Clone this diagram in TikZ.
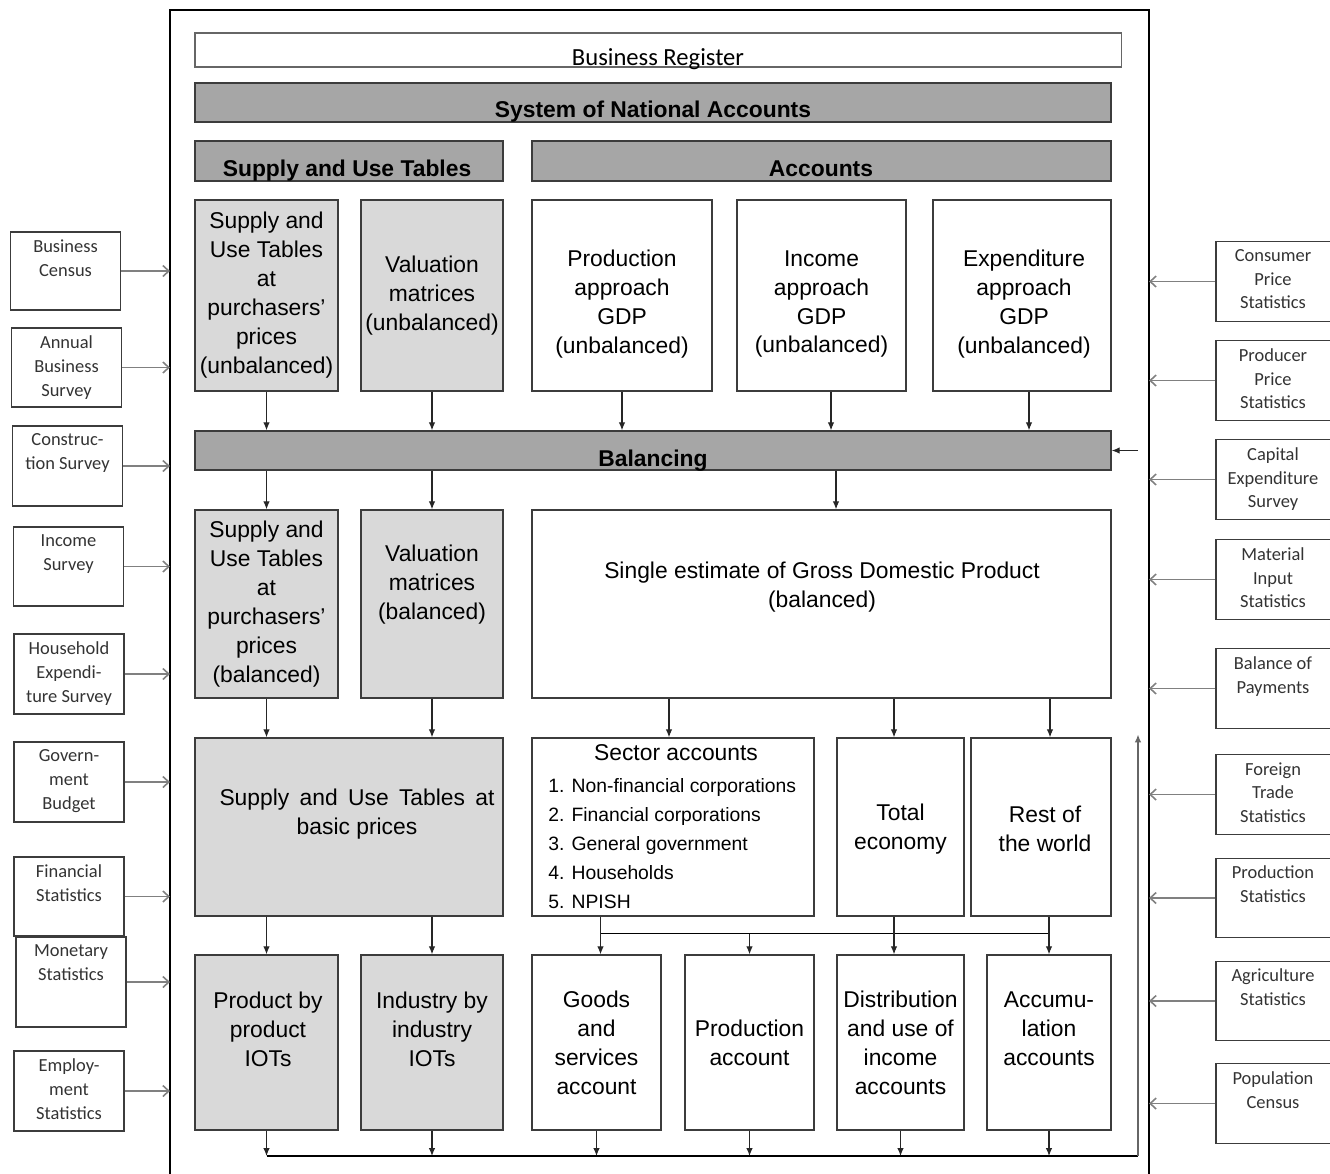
\documentclass[tikz,border=0pt]{standalone}
\usepackage{fontspec}
\setmainfont{Liberation Sans}
\newfontfamily\srcfont{Carlito}
\usetikzlibrary{arrows.meta,calc}

\definecolor{bargray}{HTML}{A6A6A6}
\definecolor{boxgray}{HTML}{D9D9D9}
\definecolor{edgegray}{HTML}{3C3C3C}

\begin{document}
\begin{tikzpicture}[x=0.2mm, y=-0.2mm, >={Latex[length=1.6mm,width=1.3mm]},
	box/.style={draw=edgegray, line width=0.8pt, inner sep=0pt, align=center, font=\fontsize{13}{16.5}\selectfont},
	bar/.style={box, fill=bargray},
	grey/.style={box, fill=boxgray},
	head/.style={inner sep=0pt, anchor=base, font=\fontsize{13}{16}\selectfont\bfseries},
	txt/.style={inner sep=0pt, align=center, font=\fontsize{13}{16.5}\selectfont},
	src/.style={draw=edgegray, line width=0.7pt, minimum width=22mm, inner sep=0pt},
	srctxt/.style={inner sep=0pt, align=center, text=black!80, font=\srcfont\fontsize{10.5}{13.5}\selectfont},
	arr/.style={->, draw=black!85, line width=0.6pt},
	feed/.style={-{Straight Barb[length=1.2mm,width=2.2mm]}, draw=black!50, line width=0.9pt}]
	\useasboundingbox (0,0) rectangle (1330,1173);
	% outer frame, open at the bottom
	\coordinate (fl) at (170,0);
	\coordinate (fr) at (1149,0);
	\draw[line width=1.3pt] (170,1180) |- (1149,10) -- (1149,1180);

	% header bars
	\node[box, draw=black!60, line width=0.6pt, minimum width=185.2mm, minimum height=6.8mm] (breg) at (658,50) {};
	\node[inner sep=0pt, anchor=base, font=\srcfont\fontsize{14}{16}\selectfont] (breg-t) at (658,65) {Business Register};
	\node[bar, minimum width=183.2mm, minimum height=7.8mm] (sna) at (653,102.5) {};
	\node[head] (sna-t) at (653,117) {System of National Accounts};
	\node[bar, minimum width=61.6mm, minimum height=8mm] (suth) at (349,161) {};
	\node[head] (suth-t) at (347,176) {Supply and Use Tables};
	\node[bar, minimum width=115.8mm, minimum height=8mm] (acch) at (821.5,161) {};
	\node[head] (acch-t) at (821,176) {Accounts};

	% unbalanced estimates
	\node[grey, minimum width=28.6mm, minimum height=38.2mm] (sut1) at (266.5,295.5) {Supply and\\Use Tables\\at\\purchasers'\\prices\\(unbalanced)};
	\node[grey, minimum width=28.4mm, minimum height=38.2mm] (val1) at (432,295.5) {Valuation\\matrices\\(unbalanced)};
	\node[box, minimum width=36mm, minimum height=38.2mm] (prod) at (622,295.5) {};
	\node[txt] (prod-t) at (622,304) {Production\\approach\\GDP\\(unbalanced)};
	\node[box, minimum width=33.8mm, minimum height=38.2mm] (inc) at (821.5,295.5) {};
	\node[txt] (inc-t) at (821.5,304) {Income\\approach\\GDP\\(unbalanced)};
	\node[box, minimum width=35.6mm, minimum height=38.2mm] (exp) at (1022,295.5) {};
	\node[txt] (exp-t) at (1024,304) {Expenditure\\approach\\GDP\\(unbalanced)};

	\node[bar, minimum width=183.2mm, minimum height=7.8mm] (bal) at (653,450.5) {};
	\node[head] (bal-t) at (653,466) {Balancing};

	% balanced estimates
	\node[grey, minimum width=28.6mm, minimum height=37.6mm] (sut2) at (266.5,604) {Supply and\\Use Tables\\at\\purchasers'\\prices\\(balanced)};
	\node[grey, minimum width=28.4mm, minimum height=37.6mm] (val2) at (432,604) {};
	\node[txt] (val2-t) at (432,585) {Valuation\\matrices\\(balanced)};
	\node[box, minimum width=115.8mm, minimum height=37.6mm] (single) at (821.5,604) {};
	\node[txt] (single-t) at (822,587) {Single estimate of Gross Domestic Product\\(balanced)};

	\node[grey, minimum width=61.6mm, minimum height=35.6mm] (sutb) at (349,827) {};
	\node[txt] (sutb-t) at (357,814) {\makebox[55mm][s]{Supply and Use Tables at}\\basic prices};
	\node[box, minimum width=56.4mm, minimum height=35.6mm] (sector) at (673,827) {};
	\node[txt] (sector-t) at (676,753) {Sector accounts};
	\node[txt, align=left, anchor=north west, font=\fontsize{11}{16.5}\selectfont] (sector-l) at (548,778) {1. Non-financial corporations\\2. Financial corporations\\3. General government\\4. Households\\5. NPISH};
	\node[box, minimum width=25.4mm, minimum height=35.6mm] (total) at (900.5,827) {};
	\node[txt] (total-t) at (900.5,829) {Total\\economy};
	\node[box, minimum width=28mm, minimum height=35.6mm] (rest) at (1041,827) {};
	\node[txt] (rest-t) at (1045,829) {Rest of\\the world};

	% tables and accounts
	\node[grey, minimum width=28.6mm, minimum height=35mm] (piot) at (266.5,1042.5) {};
	\node[txt] (piot-t) at (268,1029) {Product by\\product\\IOTs};
	\node[grey, minimum width=28.4mm, minimum height=35mm] (iiot) at (432,1042.5) {};
	\node[txt] (iiot-t) at (432,1029) {Industry by\\industry\\IOTs};
	\node[box, minimum width=25.8mm, minimum height=35mm] (goods) at (596.5,1042.5) {Goods\\and\\services\\account};
	\node[box, minimum width=25.8mm, minimum height=35mm] (prodacc) at (749.5,1042.5) {Production\\account};
	\node[box, minimum width=25.4mm, minimum height=35mm] (distr) at (900.5,1042.5) {Distribution\\and use of\\income\\accounts};
	\node[box, minimum width=24.8mm, minimum height=35mm] (accum) at (1049,1042.5) {};
	\node[txt] (accum-t) at (1049,1029) {Accumu-\\lation\\accounts};

	% flows
	\foreach \a in {sut1,val1,prod}
		\draw[arr] (\a.south) -- (\a.south |- bal.north);
	\draw[arr] ([xshift=1.9mm]inc.south) -- ([xshift=1.9mm]inc.south |- bal.north);
	\draw[arr] ([xshift=1.4mm]exp.south) -- ([xshift=1.4mm]exp.south |- bal.north);
	\foreach \b in {sut2,val2}
		\draw[arr] (\b.north |- bal.south) -- (\b.north);
	\draw[arr] ([xshift=2.9mm]single.north |- bal.south) -- ([xshift=2.9mm]single.north);
	\draw[arr] ([xshift=-0.8mm]sector.north |- single.south) -- ([xshift=-0.8mm]sector.north);
	\draw[arr] ([xshift=-1.3mm]total.north |- single.south) -- ([xshift=-1.3mm]total.north);
	\draw[arr] ([xshift=1.8mm]rest.north |- single.south) -- ([xshift=1.8mm]rest.north);
	\draw[arr] (sut2.south) -- (sut2.south |- sutb.north);
	\draw[arr] (val2.south) -- (val2.south |- sutb.north);
	\draw[arr] (piot.north |- sutb.south) -- (piot.north);
	\draw[arr] (iiot.north |- sutb.south) -- (iiot.north);
	\coordinate (split) at ($(sector.south)!0.45!(goods.north)$);
	\draw[line width=0.9pt] ([xshift=0.8mm]goods.north |- split) -- (accum.north |- split);
	\draw[arr] ([xshift=0.8mm]goods.north |- sector.south) -- ([xshift=0.8mm]goods.north);
	\draw[arr] (prodacc.north |- split) -- (prodacc.north);
	\draw[arr] ([xshift=-1.3mm]total.south) -- ([xshift=-1.3mm]distr.north);
	\draw[arr] (accum.north |- rest.south) -- (accum.north);

	% back to balancing
	\coordinate (loop) at (1138,1156);
	\foreach \b in {piot,iiot,goods,prodacc,distr,accum}
		\draw[arr] (\b.south) -- (\b.south |- loop);
	\draw[line width=0.9pt] (piot.south |- loop) -- (loop);
	\draw[arr, draw=black!60, line width=0.9pt] (loop) -- ([yshift=0.6mm]loop |- rest.north);
	\draw[arr] (bal.east -| loop) -- (bal.east);

	% source statistics, left
	\foreach \nm/\cx/\cy/\h/\txt in {
		bc/65.5/271/15.6/{Business\\Census},
		abs/66.5/367.5/15.8/{Annual\\Business\\Survey},
		cs/67.5/466/16/{Construc-\\tion Survey},
		is/68.5/566.5/15.8/{Income\\Survey},
		hes/69/674/16/{Household\\Expendi-\\ture Survey},
		gb/69/782/16/{Govern-\\ment\\Budget},
		fs/69/896.5/15.8/{Financial\\Statistics},
		ms/71/982/18/{Monetary\\Statistics},
		es/69/1091/16/{Employ-\\ment\\Statistics}}
	{
		\node[src, minimum height=\h mm] (\nm) at (\cx,\cy) {};
		\node[srctxt, anchor=north] (\nm-t) at ([yshift=-1.6mm]\nm.north) {\txt};
		\draw[feed] (\nm.east) -- (\nm.east -| fl);
	}

	% source statistics, right
	\foreach \nm/\cy/\txt in {
		cps/281.5/{Consumer\\Price\\Statistics},
		pps/380.5/{Producer\\Price\\Statistics},
		ces/479.5/{Capital\\Expenditure\\Survey},
		mis/579.5/{Material\\Input\\Statistics},
		bop/688.5/{Balance of\\Payments},
		fts/794.5/{Foreign\\Trade\\Statistics},
		ps/898/{Production\\Statistics},
		as/1001/{Agriculture\\Statistics},
		pc/1103.5/{Population\\Census}}
	{
		\node[src, minimum width=23.6mm, minimum height=15.9mm] (\nm) at (1275,\cy) {};
		\node[srctxt, anchor=north] (\nm-t) at ([xshift=-0.4mm, yshift=-1.6mm]\nm.north) {\txt};
		\draw[feed] (\nm.west) -- (\nm.west -| fr);
	}
\end{tikzpicture}
\end{document}
